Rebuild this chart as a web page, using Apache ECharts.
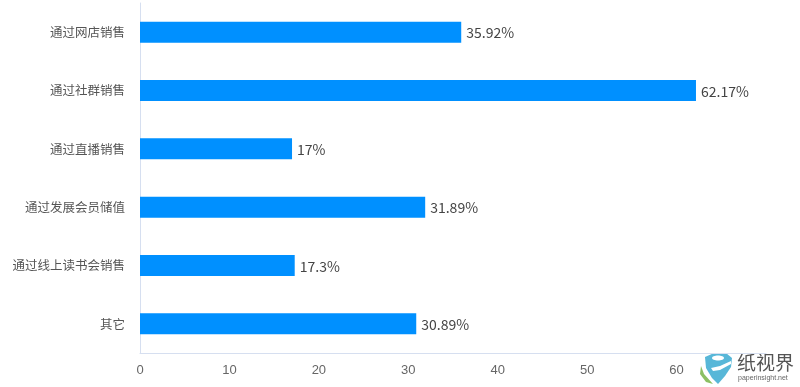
<!DOCTYPE html>
<html>
<head>
<meta charset="utf-8">
<style>
html, body { margin: 0; padding: 0; background: #fff; }
#chart { width: 800px; height: 387px; }
</style>
<script src="https://cdn.jsdelivr.net/npm/echarts@6/dist/echarts.min.js"></script>
</head>
<body>
<div id="chart"></div>
<script>
const categories = ['通过网店销售', '通过社群销售', '通过直播销售', '通过发展会员储值', '通过线上读书会销售', '其它'];
const values = [35.92, 62.17, 17, 31.89, 17.3, 30.89];
const xTicks = [0, 10, 20, 30, 40, 50, 60];

const FONT = '"Noto Sans CJK SC", sans-serif';

const chart = echarts.init(document.getElementById('chart'), null, { renderer: 'canvas' });
chart.setOption({
    animation: false,
    backgroundColor: '#fff',
    grid: { left: 140, right: 34, top: 3, bottom: 34, containLabel: false },
    xAxis: {
        type: 'value',
        min: 0,
        max: 70,
        interval: 10,
        splitLine: { show: false },
        axisTick: { show: false },
        axisLine: { show: true, lineStyle: { color: '#d6dff0', width: 1 } },
        axisLabel: {
            color: '#666',
            fontSize: 13,
            fontFamily: '"Liberation Sans", sans-serif',
            margin: 11,
            formatter: v => xTicks.includes(v) ? String(v) : ''
        }
    },
    yAxis: {
        type: 'category',
        inverse: true,
        data: categories,
        axisTick: { show: false },
        axisLine: { show: true, lineStyle: { color: '#d6dff0', width: 1 } },
        axisLabel: { color: '#555', fontSize: 12.5, fontFamily: FONT, margin: 15 }
    },
    series: [{
        type: 'bar',
        data: values,
        barWidth: 21,
        itemStyle: { color: '#0090ff' },
        label: {
            show: true,
            position: 'right',
            distance: 5,
            offset: [0, 1],
            color: '#444',
            fontSize: 14,
            fontFamily: FONT,
            formatter: p => p.value + '%'
        }
    }],
    // watermark in the lower right corner
    graphic: [
        { type: 'polygon', shape: { points: [[705, 357], [714, 353], [726, 353], [732, 358], [731, 367], [725, 376], [718, 384], [712, 378], [706, 368]] }, style: { fill: '#58b7d8' } },
        { type: 'ellipse', shape: { cx: 718, cy: 358, rx: 6, ry: 2.5 }, style: { fill: '#fff' } },
        { type: 'polygon', shape: { points: [[711, 368], [720, 366], [731, 361], [731, 364], [720, 370], [713, 371]] }, style: { fill: '#fff' } },
        { type: 'polygon', shape: { points: [[701, 366], [704, 374], [713, 384], [706, 382], [700, 374]] }, style: { fill: '#8cc063' } },
        { type: 'text', style: { x: 737, y: 353, text: '纸视界', fill: '#555', font: '19px "Noto Sans CJK SC"' } },
        { type: 'text', style: { x: 738, y: 375, text: 'paperinsight.net', fill: '#666', font: '7px "Liberation Sans"' } }
    ]
});
</script>
</body>
</html>
